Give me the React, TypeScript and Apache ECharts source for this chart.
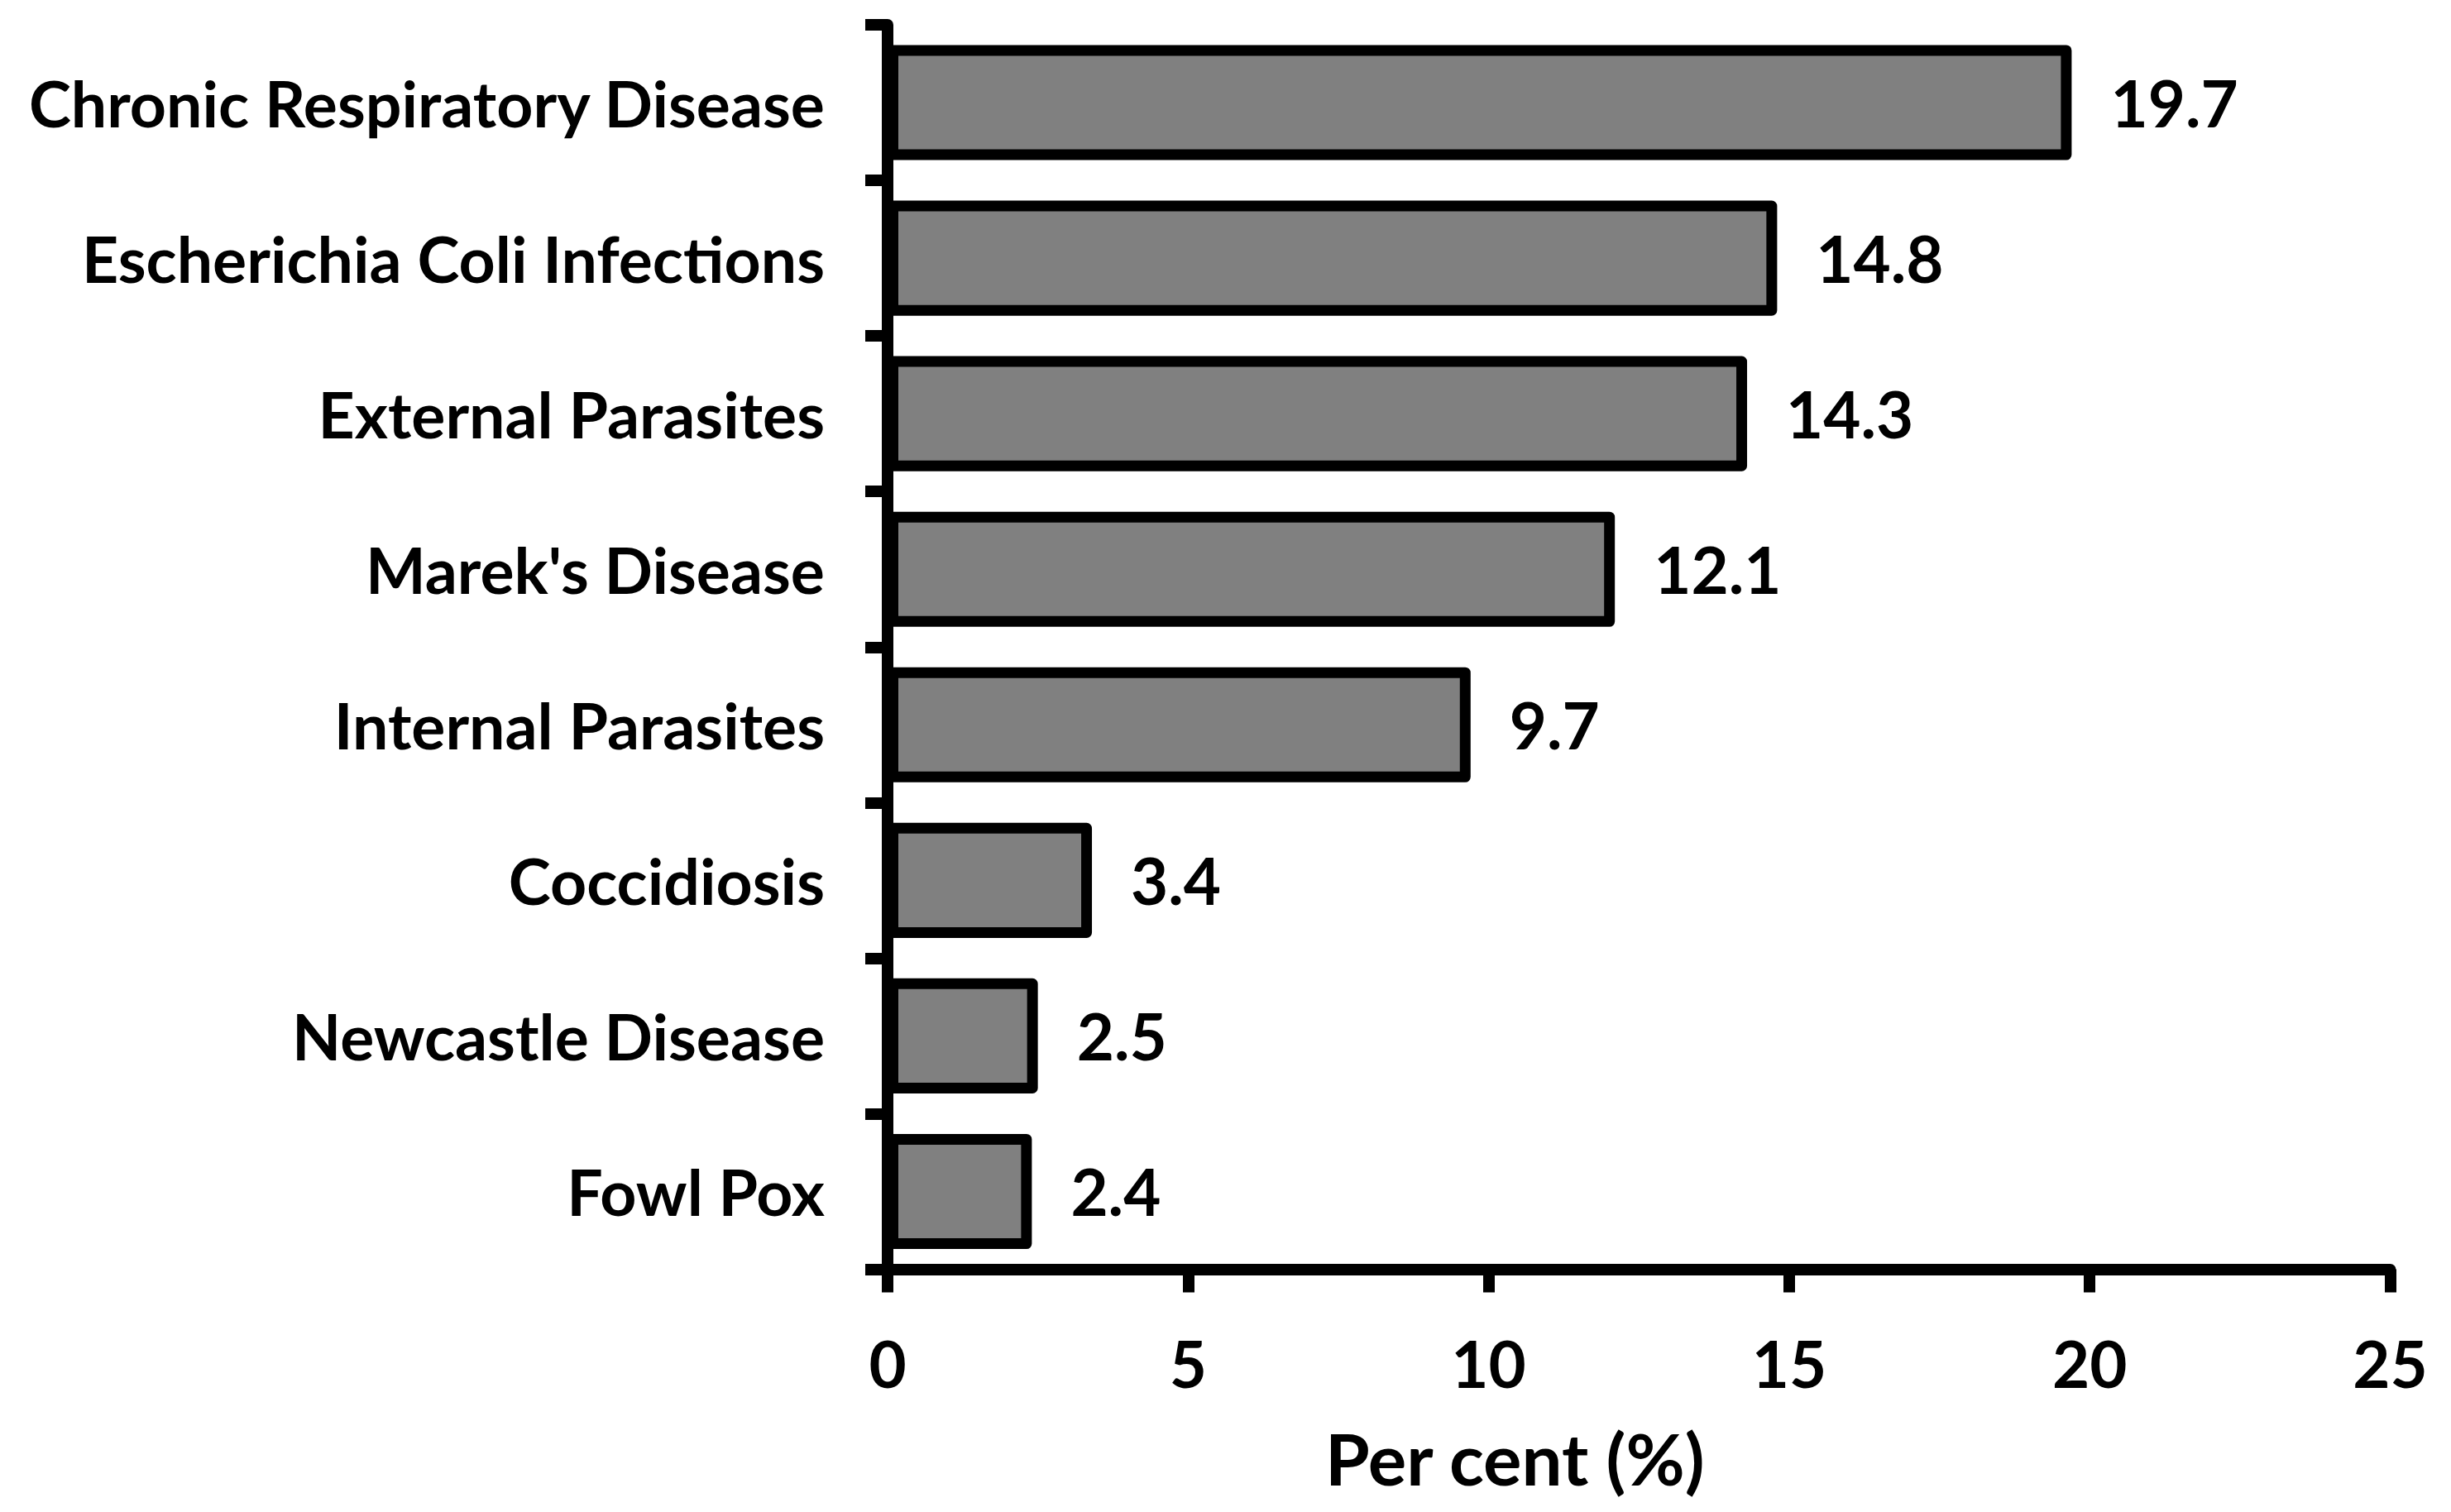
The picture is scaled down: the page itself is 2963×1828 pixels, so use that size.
import React, { useEffect, useRef } from "react";
import * as echarts from "echarts";

const categories = [
  "Chronic Respiratory Disease",
  "Escherichia Coli Infections",
  "External Parasites",
  "Marek's Disease",
  "Internal Parasites",
  "Coccidiosis",
  "Newcastle Disease",
  "Fowl Pox",
];
const values = [19.7, 14.8, 14.3, 12.1, 9.7, 3.4, 2.5, 2.4];
const xMin = 0;
const xMax = 25;
const xInterval = 5;
const xTitle = "Per cent (%)";

const FONT = "Lato";

export default function App() {
  const ref = useRef<HTMLDivElement>(null);
  useEffect(() => {
    if (!ref.current) return;
    const chart = echarts.init(ref.current, undefined, { renderer: "svg" });
    chart.setOption({
      animation: false,
      backgroundColor: "#ffffff",
      grid: { left: 1073, top: 30, right: 73.5, bottom: 293.5, containLabel: false },
      xAxis: {
        type: "value",
        min: xMin,
        max: xMax,
        interval: xInterval,
        name: xTitle,
        nameLocation: "middle",
        nameGap: 184,
        nameTextStyle: {
          fontFamily: FONT,
          fontWeight: "bold",
          fontSize: 87,
          color: "#000",
          padding: [0, 300, 0, 0],
        },
        axisLine: { show: true, lineStyle: { color: "#000", width: 14 } },
        axisTick: { show: true, length: 28, lineStyle: { color: "#000", width: 14 } },
        splitLine: { show: false },
        axisLabel: {
          margin: 74,
          fontFamily: FONT,
          fontWeight: "bold",
          fontSize: 78,
          color: "#000",
        },
      },
      yAxis: {
        type: "category",
        inverse: true,
        data: categories,
        axisLine: { show: true, lineStyle: { color: "#000", width: 14 } },
        axisTick: { show: true, length: 27, lineStyle: { color: "#000", width: 14 } },
        splitLine: { show: false },
        axisLabel: {
          margin: 76,
          fontFamily: FONT,
          fontWeight: "bold",
          fontSize: 77,
          color: "#000",
          padding: [0, 0, 12, 0],
        },
      },
      series: [
        {
          type: "bar",
          data: values,
          barCategoryGap: "26%",
          itemStyle: {
            color: "#808080",
            borderColor: "#000",
            borderWidth: 13,
            borderJoin: "round",
          },
          label: {
            show: true,
            position: "right",
            distance: 47,
            fontFamily: FONT,
            fontWeight: "bold",
            fontSize: 78,
            color: "#000",
            padding: [0, 0, 10, 0],
            formatter: (p: any) => String(p.value),
          },
        },
      ],
    });
    return () => chart.dispose();
  }, []);
  return (
    <div
      ref={ref}
      style={{ position: "fixed", left: 0, top: 0, width: 2963, height: 1828, background: "#fff" }}
    />
  );
}
